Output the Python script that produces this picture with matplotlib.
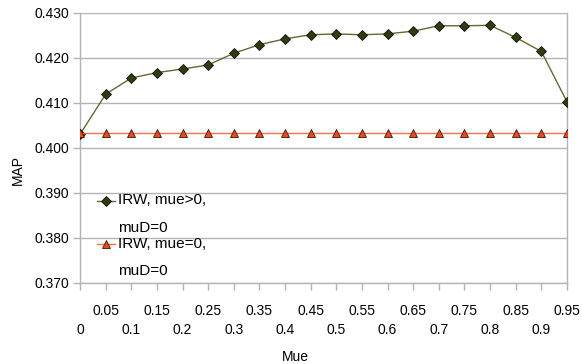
import matplotlib
matplotlib.use("Agg")
import matplotlib.pyplot as plt
from matplotlib.legend_handler import HandlerLine2D

plt.rcParams['font.family'] = ['Liberation Sans', 'DejaVu Sans']

mue_labels = ["0", "0.05", "0.1", "0.15", "0.2", "0.25", "0.3", "0.35", "0.4", "0.45",
              "0.5", "0.55", "0.6", "0.65", "0.7", "0.75", "0.8", "0.85", "0.9", "0.95"]
irw_mue_pos = [0.4030, 0.4119, 0.4155, 0.4167, 0.4175, 0.4184, 0.4210, 0.4229, 0.4242, 0.4251,
               0.4253, 0.4251, 0.4253, 0.4259, 0.4271, 0.4271, 0.4272, 0.4245, 0.4214, 0.4102]
irw_mue_zero = [0.4032] * 20
y_ticks = [0.370, 0.380, 0.390, 0.400, 0.410, 0.420, 0.430]


class TopHandler(HandlerLine2D):
    def __init__(self, dy, **kw):
        super().__init__(**kw)
        self.dy = dy

    def create_artists(self, legend, orig_handle, xdescent, ydescent, width, height,
                       fontsize, trans):
        arts = super().create_artists(legend, orig_handle, xdescent, ydescent, width,
                                      height, fontsize, trans)
        for a in arts:
            a.set_ydata([y + self.dy for y in a.get_ydata()])
        return arts


fig = plt.figure(figsize=(5.82, 3.64), dpi=100)
ax = fig.add_axes([80/582, 1-283/364, (567-80)/582, (283-12.7)/364])

x = list(range(len(mue_labels)))
l1, = ax.plot(x, irw_mue_pos, color='#666633', lw=1.0, marker='D', markersize=5.5,
              markerfacecolor='#2d3d0e', markeredgecolor='#111111', markeredgewidth=0.6,
              label='IRW, mue>0,\nmuD=0', zorder=3)
l2, = ax.plot(x, irw_mue_zero, color='#ff7043', lw=1.0, marker='^', markersize=6,
              markerfacecolor='#ff420e', markeredgecolor='#222222', markeredgewidth=0.6,
              label='IRW, mue=0,\nmuD=0', zorder=4)

ax.set_xlim(0, len(mue_labels) - 1)
ax.set_ylim(0.370, 0.430)
ax.set_yticks(y_ticks)
ax.set_yticklabels([f"{v:.3f}" for v in y_ticks])
ax.set_xticks(x)
ax.set_xticklabels([lab if i % 2 == 1 else "\n" + lab for i, lab in enumerate(mue_labels)],
                   linespacing=1.45)

ax.grid(axis='y', color='#b3b3b3', lw=1.0)
ax.set_axisbelow(True)
for s in ['left', 'bottom', 'right']:
    ax.spines[s].set_color('#b3b3b3')
    ax.spines[s].set_linewidth(1.0)
ax.spines['top'].set_visible(False)
ax.tick_params(axis='both', colors='#b3b3b3', labelcolor='#000000', labelsize=10,
               length=5, width=1.0)
ax.tick_params(axis='y', pad=3)
ax.tick_params(axis='x', pad=10)

fig.text(18/582, 1-170/364, 'MAP', rotation=90, ha='center', va='center', fontsize=10)
fig.text(295/582, 1-357/364, 'Mue', ha='center', va='center', fontsize=10)

dy = 9.7
leg = ax.legend(handles=[l1, l2], loc='upper left', bbox_to_anchor=(97/582, 1-193/364),
                bbox_transform=fig.transFigure, frameon=False, fontsize=11,
                handlelength=1.2, handletextpad=0.15, labelspacing=0.12, borderpad=0,
                borderaxespad=0,
                handler_map={l1: TopHandler(dy), l2: TopHandler(dy)})
for t in leg.get_texts():
    t.set_linespacing(2.25)

fig.savefig('out.png', dpi=100)
